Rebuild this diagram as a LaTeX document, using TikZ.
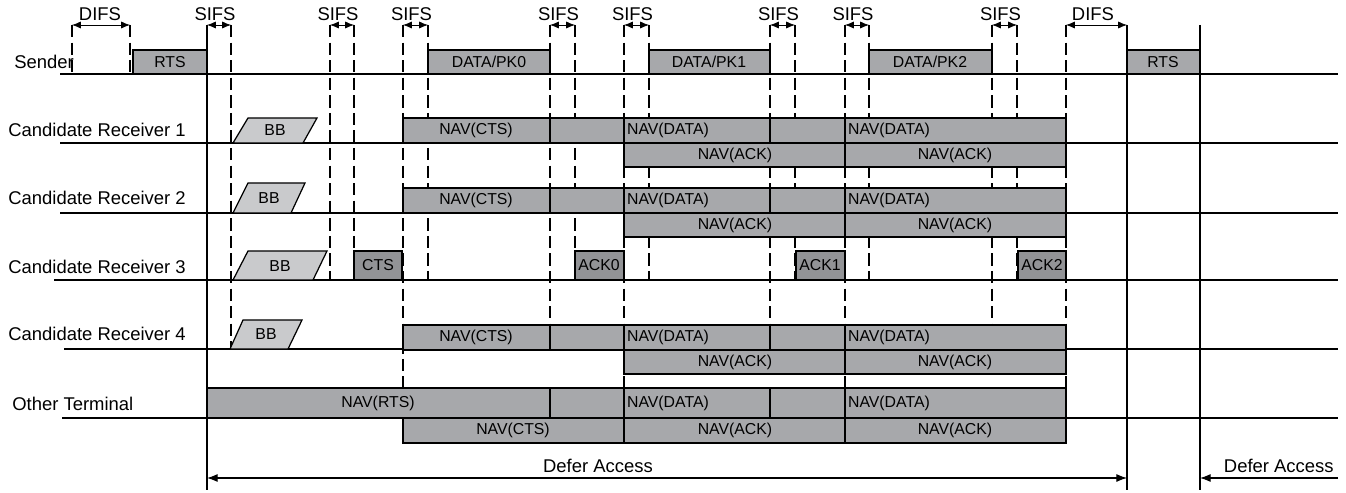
\documentclass[tikz,border=0pt]{standalone}
\usepackage{fontspec}
\setmainfont{Liberation Sans}
\usetikzlibrary{arrows.meta}

\definecolor{navgray}{RGB}{167,168,171}
\definecolor{ackgray}{RGB}{146,147,150}
\definecolor{bbgray}{RGB}{201,202,204}

\begin{document}
\begin{tikzpicture}[
    x=0.02cm, y=-0.02cm,
    >={Latex[length=5pt,width=4pt]},
    axis/.style={line width=0.6pt},
    ifsline/.style={line width=1.5pt, dash pattern=on 7pt off 3pt},
    nav/.style={draw, line width=0.7pt, fill=navgray},
    ack/.style={draw, line width=0.7pt, fill=ackgray},
    bb/.style={draw, line width=0.7pt, fill=bbgray},
    lbl/.style={font=\fontsize{9}{10}\selectfont, inner sep=1pt},
    rowlabel/.style={font=\fontsize{10.5}{12}\selectfont, inner sep=0pt, anchor=west},
    toplabel/.style={font=\fontsize{10.5}{12}\selectfont, inner sep=0pt}
  ]
  \useasboundingbox (0,0) rectangle (1346,493);

  % station names
  \node[rowlabel] (snd) at (14,62)  {Sender};
  \node[rowlabel] (cr1) at (8,130)  {Candidate Receiver 1};
  \node[rowlabel] (cr2) at (8,198)  {Candidate Receiver 2};
  \node[rowlabel] (cr3) at (8,267)  {Candidate Receiver 3};
  \node[rowlabel] (cr4) at (8,334)  {Candidate Receiver 4};
  \node[rowlabel] (oth) at (12,404) {Other Terminal};

  % time axes
  \draw[axis] (60,74)  -- (1338,74);
  \draw[axis] (60,143) -- (1338,143);
  \draw[axis] (60,213) -- (1338,213);
  \draw[axis] (54,280) -- (1338,280);
  \draw[axis] (64,349) -- (1338,349);
  \draw[axis] (62,418) -- (1338,418);

  % interframe space marks (x / lower end)
  \foreach \x/\y in {72/74, 130/74, 231/349, 330/280, 354/280, 403/388,
                     428/280, 550/325, 575/280, 624/388, 649/280, 770/325,
                     795/280, 845/388, 869/280, 992/325, 1017/280, 1066/443} {
    \coordinate (m\x) at (\x,25);
    \draw[ifsline] (\x,25) -- (\x,\y);
  }

  % solid time marks
  \foreach \x in {207,1127,1200} {
    \coordinate (m\x) at (\x,25);
    \coordinate (b\x) at (\x,490);
    \draw[axis] (m\x) -- (b\x);
  }

  % DIFS / SIFS arrows
  \draw[<->] (m72) -- (m130);
  \node[toplabel] (difs1) at (100,14) {DIFS};
  \draw[<->] (m1066) -- (m1127);
  \node[toplabel] (difs2) at (1093,14) {DIFS};
  \foreach \a/\b in {207/231, 330/354, 403/428, 550/575,
                     624/649, 770/795, 845/869, 992/1017} {
    \draw[<->] (m\a) -- (m\b);
    \node[toplabel] (sifs\a) at ({(\a+\b)/2-4},14) {SIFS};
  }

  % sender frames
  \draw[nav] (133,50) rectangle (207,74);
  \node[lbl] (rts1) at (170,62) {RTS};
  \draw[nav] (428,50) rectangle (550,74);
  \node[lbl] (pk0) at (489,62) {DATA/PK0};
  \draw[nav] (649,50) rectangle (770,74);
  \node[lbl] (pk1) at (709,62) {DATA/PK1};
  \draw[nav] (869,50) rectangle (992,74);
  \node[lbl] (pk2) at (930,62) {DATA/PK2};
  \draw[nav] (1127,50) rectangle (1200,74);
  \node[lbl] (rts2) at (1163,62) {RTS};

  % busy bursts
  \draw[bb] (233,143) -- (248,118) -- (317,118) -- (303,143) -- cycle;
  \node[lbl] (bb1) at (275,130) {BB};
  \draw[bb] (233,213) -- (248,183) -- (305,183) -- (291,213) -- cycle;
  \node[lbl] (bb2) at (269,198) {BB};
  \draw[bb] (233,280) -- (248,251) -- (327,251) -- (313,280) -- cycle;
  \node[lbl] (bb3) at (280,266) {BB};
  \draw[bb] (230,349) -- (243,320) -- (302,320) -- (288,349) -- cycle;
  \node[lbl] (bb4) at (266,334) {BB};

  % NAV of candidate receivers 1, 2 and 4
  \foreach \r/\t in {c1/118, c2/188, c4/325} {
    \draw[nav] (403,\t) rectangle (1066,\t+25);
    \foreach \x in {550,624,770,845}
      \draw[line width=0.7pt] (\x,\t) -- (\x,\t+25);
    \draw[nav] (624,\t+25) rectangle (1066,\t+49);
    \draw[line width=0.7pt] (845,\t+25) -- (845,\t+49);
    \node[lbl] (\r cts) at (476,\t+12.5) {NAV(CTS)};
    \node[lbl, anchor=west] (\r data1) at (625,\t+12.5) {NAV(DATA)};
    \node[lbl, anchor=west] (\r data2) at (846,\t+12.5) {NAV(DATA)};
    \node[lbl] (\r ack1) at (735,\t+37) {NAV(ACK)};
    \node[lbl] (\r ack2) at (955,\t+37) {NAV(ACK)};
  }

  % CTS and ACK of candidate receiver 3
  \draw[ack] (354,251) rectangle (402,280);
  \node[lbl] (cts) at (378,265) {CTS};
  \draw[ack] (575,251) rectangle (624,280);
  \node[lbl] (ack0) at (599,265) {ACK0};
  \draw[ack] (796,251) rectangle (845,280);
  \node[lbl] (ack1) at (820,265) {ACK1};
  \draw[ack] (1018,251) rectangle (1066,280);
  \node[lbl] (ack2) at (1042,265) {ACK2};

  % NAV of the other terminal
  \draw[nav] (207,388) rectangle (1066,418);
  \foreach \x in {550,624,770,845}
    \draw[line width=0.7pt] (\x,388) -- (\x,418);
  \draw[nav] (403,418) rectangle (1066,443);
  \draw[line width=0.7pt] (624,418) -- (624,443);
  \draw[line width=0.7pt] (845,418) -- (845,443);
  \node[lbl] (ortsn) at (378,403) {NAV(RTS)};
  \node[lbl, anchor=west] (odata1) at (625,403) {NAV(DATA)};
  \node[lbl, anchor=west] (odata2) at (846,403) {NAV(DATA)};
  \node[lbl] (octs) at (513,430) {NAV(CTS)};
  \node[lbl] (oack1) at (735,430) {NAV(ACK)};
  \node[lbl] (oack2) at (955,430) {NAV(ACK)};

  % defer access
  \coordinate (d1) at (207,478);
  \coordinate (d2) at (1127,478);
  \coordinate (d3) at (1200,478);
  \coordinate (d4) at (1338,478);
  \draw[axis, <->, >={Latex[length=6pt,width=4.5pt]}] (d1) -- (d2);
  \draw[axis, ->, >={Latex[length=6pt,width=4.5pt]}] (d4) -- (d3);
  \node[toplabel] (def1) at (598,466) {Defer Access};
  \node[toplabel, anchor=east] (def2) at (1334,466) {Defer Access};

\end{tikzpicture}
\end{document}
